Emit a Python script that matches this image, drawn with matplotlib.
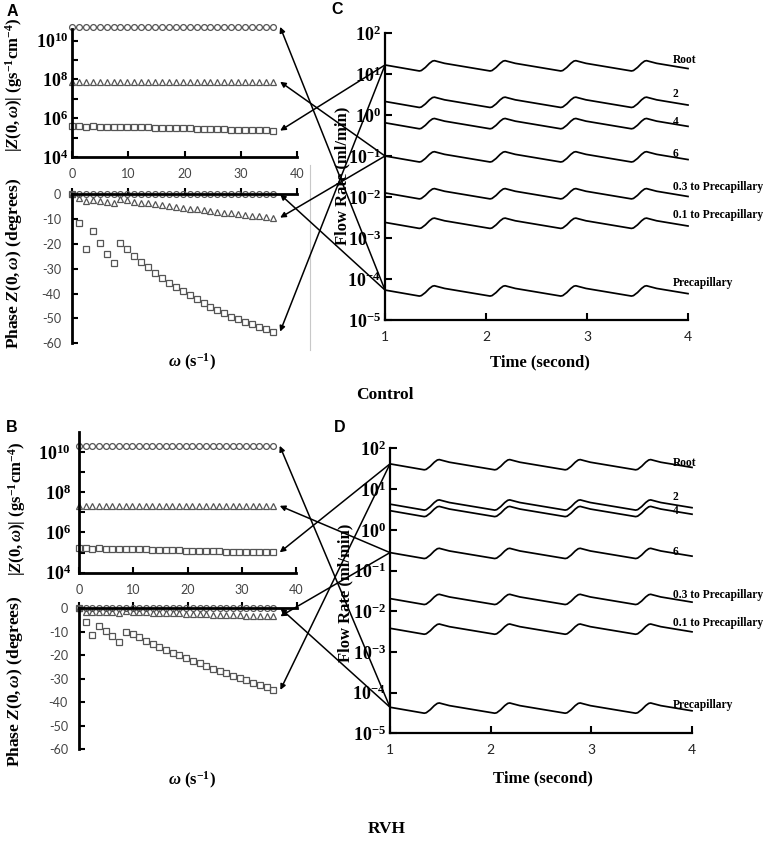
import numpy as np
import matplotlib
matplotlib.use('Agg')
import matplotlib.pyplot as plt
from matplotlib.patches import ConnectionPatch
from matplotlib.lines import Line2D
from matplotlib.ticker import NullLocator

plt.rcParams['mathtext.fontset'] = 'custom'
plt.rcParams['mathtext.rm'] = 'Liberation Serif:bold'
plt.rcParams['mathtext.it'] = 'Liberation Serif:bold:italic'
plt.rcParams['mathtext.bf'] = 'Liberation Serif:bold'
plt.rcParams['mathtext.default'] = 'rm'

# ---------------- data ----------------
omega = [0.00, 1.23, 2.46, 3.69, 4.92, 6.15, 7.38, 8.62, 9.85, 11.08,
         12.31, 13.54, 14.77, 16.00, 17.23, 18.46, 19.69, 20.92, 22.15, 23.38,
         24.62, 25.85, 27.08, 28.31, 29.54, 30.77, 32.00, 33.23, 34.46, 35.69]

# log10 |Z(0,w)|  -- Control
ctrl_mag_circle = [10.71, 10.71, 10.71, 10.71, 10.71, 10.71, 10.71, 10.71, 10.71, 10.71,
                   10.71, 10.71, 10.71, 10.71, 10.71, 10.71, 10.71, 10.71, 10.71, 10.71,
                   10.71, 10.71, 10.71, 10.71, 10.71, 10.71, 10.71, 10.71, 10.71, 10.71]
ctrl_mag_triangle = [7.88, 7.88, 7.88, 7.88, 7.88, 7.88, 7.88, 7.88, 7.88, 7.88,
                     7.88, 7.88, 7.88, 7.88, 7.88, 7.88, 7.88, 7.88, 7.88, 7.88,
                     7.88, 7.88, 7.88, 7.88, 7.88, 7.88, 7.88, 7.88, 7.88, 7.88]
ctrl_mag_square = [5.58, 5.58, 5.57, 5.58, 5.57, 5.56, 5.56, 5.55, 5.55, 5.54,
                   5.53, 5.53, 5.52, 5.51, 5.50, 5.49, 5.48, 5.47, 5.46, 5.45,
                   5.44, 5.43, 5.42, 5.41, 5.40, 5.39, 5.38, 5.37, 5.37, 5.36]
# phase (degrees) -- Control
ctrl_ph_circle = [0, 0, 0, 0, 0, 0, 0, 0, 0, 0, 0, 0, 0, 0, 0,
                  0, 0, 0, 0, 0, 0, 0, 0, 0, 0, 0, 0, 0, 0, 0]
ctrl_ph_triangle = [0, -1.6, -2.7, -2.3, -2.7, -3.1, -3.4, -2.0, -2.3, -3.0,
                    -3.4, -3.6, -4.0, -4.3, -4.7, -5.0, -5.4, -5.8, -6.0, -6.3,
                    -6.7, -7.0, -7.4, -7.7, -8.1, -8.3, -8.6, -8.9, -9.1, -9.4]
ctrl_ph_square = [0, -11.4, -22.1, -14.8, -19.5, -23.9, -27.8, -19.7, -22.1, -24.8,
                  -27.1, -29.3, -31.5, -33.6, -35.6, -37.2, -38.9, -40.5, -42.3, -43.9,
                  -45.2, -46.6, -47.9, -49.3, -50.3, -51.4, -52.3, -53.3, -54.4, -55.3]

# log10 |Z(0,w)|  -- RVH
rvh_mag_circle = [10.30, 10.30, 10.30, 10.30, 10.30, 10.30, 10.30, 10.30, 10.30, 10.30,
                  10.30, 10.30, 10.30, 10.30, 10.30, 10.30, 10.30, 10.30, 10.30, 10.30,
                  10.30, 10.30, 10.30, 10.30, 10.30, 10.30, 10.30, 10.30, 10.30, 10.30]
rvh_mag_triangle = [7.32, 7.32, 7.32, 7.32, 7.32, 7.32, 7.32, 7.32, 7.32, 7.32,
                    7.32, 7.32, 7.32, 7.32, 7.32, 7.32, 7.32, 7.32, 7.32, 7.32,
                    7.32, 7.32, 7.32, 7.32, 7.32, 7.32, 7.32, 7.32, 7.32, 7.32]
rvh_mag_square = [5.21, 5.21, 5.20, 5.21, 5.20, 5.19, 5.19, 5.18, 5.17, 5.17,
                  5.16, 5.15, 5.14, 5.13, 5.12, 5.11, 5.10, 5.10, 5.09, 5.08,
                  5.07, 5.06, 5.05, 5.05, 5.04, 5.03, 5.03, 5.02, 5.02, 5.01]
# phase (degrees) -- RVH
rvh_ph_circle = [0, 0, 0, 0, 0, 0, 0, 0, 0, 0, 0, 0, 0, 0, 0,
                 0, 0, 0, 0, 0, 0, 0, 0, 0, 0, 0, 0, 0, 0, 0]
rvh_ph_triangle = [0, -1.4, -1.7, -1.4, -1.5, -1.7, -1.8, -1.3, -1.4, -1.6,
                   -1.7, -1.8, -1.9, -2.0, -2.1, -2.2, -2.3, -2.4, -2.5, -2.6,
                   -2.7, -2.8, -2.9, -3.0, -3.0, -3.1, -3.2, -3.3, -3.3, -3.4]
rvh_ph_square = [0, -5.7, -11.4, -7.4, -9.7, -11.8, -14.2, -10.0, -11.1, -12.4,
                 -13.8, -15.1, -16.4, -17.6, -18.9, -20.1, -21.2, -22.3, -23.5, -24.6,
                 -25.7, -26.7, -27.7, -28.7, -29.7, -30.7, -31.7, -32.7, -33.7, -34.8]

# flow waveform (time in s, log10 offset from value at t=1 s)
wave_t = [1.00, 1.34, 1.36, 1.40, 1.44, 1.47, 1.49, 1.52, 1.59,
          2.04, 2.06, 2.10, 2.14, 2.17, 2.19, 2.22, 2.29,
          2.74, 2.76, 2.80, 2.84, 2.87, 2.89, 2.92, 2.99,
          3.44, 3.46, 3.50, 3.54, 3.57, 3.59, 3.62, 3.69,
          4.00]
wave_dlog = [0.00, -0.146, -0.135, -0.06, 0.04, 0.095, 0.105, 0.085, 0.04,
             -0.146, -0.135, -0.06, 0.04, 0.095, 0.105, 0.085, 0.04,
             -0.146, -0.135, -0.06, 0.04, 0.095, 0.105, 0.085, 0.04,
             -0.146, -0.135, -0.06, 0.04, 0.095, 0.105, 0.085, 0.04,
             -0.087]

vessels = ['Root', '2', '4', '6', '0.3 to Precapillary', '0.1 to Precapillary', 'Precapillary']
ctrl_level = [1.22, 0.33, -0.19, -1.00, -1.90, -2.62, -4.27]   # log10 flow at t=1
rvh_level = [1.62, 0.63, 0.47, -0.56, -1.69, -2.42, -4.36]
ctrl_label_y = [1.34, 0.51, -0.17, -0.95, -1.76, -2.44, -4.10]
rvh_label_y = [1.64, 0.81, 0.47, -0.54, -1.60, -2.30, -4.30]

mag_xticks = [0, 10, 20, 30, 40]
phase_yticks = [0, -10, -20, -30, -40, -50, -60]
flow_xticks = [1, 2, 3, 4]
flow_yexp = [-5, -4, -3, -2, -1, 0, 1, 2]
mag_yexp = [4, 5, 6, 7, 8, 9, 10]

# ---------------- figure ----------------
W, H = 767, 844
fig = plt.figure(figsize=(W / 100, H / 100), dpi=100)
SERIF = 'Liberation Serif'
SANS = 'Lato'
MC = '#555555'


def box(x0, x1, ytop, ybot):
    return [x0 / W, 1 - ybot / H, (x1 - x0) / W, (ybot - ytop) / H]


def style_mag(ax, ytop, ypad):
    ax.set_yscale('log')
    ax.set_xlim(0, 40)
    ax.set_ylim(1e4, 10 ** ytop)
    for s in ['top', 'right']:
        ax.spines[s].set_visible(False)
    for s in ['left', 'bottom']:
        ax.spines[s].set_linewidth(2)
    ax.set_xticks(mag_xticks)
    ax.set_xticklabels([str(v) for v in mag_xticks], fontfamily=SANS, fontsize=9, color='#444444')
    ax.set_yticks([10.0 ** k for k in mag_yexp])
    ax.set_yticklabels(['$10^{%d}$' % k if k % 2 == 0 else '' for k in mag_yexp], fontsize=13)
    ax.yaxis.set_minor_locator(NullLocator())
    ax.tick_params(direction='in', length=4, width=1.5)
    ax.tick_params(axis='x', pad=8)
    ax.tick_params(axis='y', pad=ypad)
    ax.patch.set_alpha(0)


def style_phase(ax):
    ax.set_xlim(0, 40)
    ax.set_ylim(-60, 0)
    for s in ['top', 'right']:
        ax.spines[s].set_visible(False)
    ax.spines['bottom'].set_position(('data', 0))
    for s in ['left', 'bottom']:
        ax.spines[s].set_linewidth(2)
    ax.set_xticks(mag_xticks)
    ax.set_xticklabels(['' for v in mag_xticks])
    ax.set_yticks(phase_yticks)
    ax.set_yticklabels([str(v) for v in phase_yticks], fontfamily=SANS, fontsize=9, color='#444444')
    ax.tick_params(direction='in', length=4, width=1.5)
    ax.tick_params(axis='y', pad=8)
    ax.patch.set_alpha(0)


def style_flow(ax):
    ax.set_yscale('log')
    ax.set_xlim(1, 4)
    ax.set_ylim(1e-5, 1e2)
    for s in ['top', 'right']:
        ax.spines[s].set_visible(False)
    for s in ['left', 'bottom']:
        ax.spines[s].set_linewidth(1.6)
    ax.set_xticks(flow_xticks)
    ax.set_xticklabels([str(v) for v in flow_xticks], fontfamily=SANS, fontsize=10, color='#222222')
    ax.set_yticks([10.0 ** k for k in flow_yexp])
    ax.set_yticklabels(['$10^{%d}$' % k for k in flow_yexp], fontsize=13)
    ax.yaxis.set_minor_locator(NullLocator())
    ax.tick_params(direction='in', length=5, width=1.5)
    ax.tick_params(axis='x', pad=8)
    ax.tick_params(axis='y', pad=3)
    ax.patch.set_alpha(0)


def draw_imp(axm, axp, mc, mt, ms, pc, pt, ps):
    kw = dict(ls='none', mfc='none', mec=MC, mew=0.9, clip_on=False)
    axm.plot(omega, 10 ** np.array(mc), marker='o', ms=4.2, **kw)
    axm.plot(omega, 10 ** np.array(mt), marker='^', ms=4.2, **kw)
    axm.plot(omega, 10 ** np.array(ms), marker='s', ms=4.4, **kw)
    axp.plot(omega, pc, marker='o', ms=4.2, **kw)
    axp.plot(omega, pt, marker='^', ms=4.2, **kw)
    axp.plot(omega, ps, marker='s', ms=4.8, **kw)


def draw_flow(ax, levels, label_y, xlab):
    d = np.array(wave_dlog)
    for name, lvl, ly in zip(vessels, levels, label_y):
        ax.plot(wave_t, 10 ** (lvl + d), color='black', lw=1.25, clip_on=False,
                solid_joinstyle='round')
        ax.text(xlab, 10 ** ly, name, fontfamily=SERIF, fontweight='bold', fontsize=8.3,
                ha='left', va='center')


def connect(ax_from, xy_from, ax_to, xy_to):
    con = ConnectionPatch(xyA=xy_from, coordsA=ax_from.transData,
                          xyB=xy_to, coordsB=ax_to.transData,
                          arrowstyle='-|>', mutation_scale=8, lw=1.1,
                          color='black', shrinkA=0, shrinkB=0, zorder=10)
    fig.add_artist(con)


# ---- Control ----
axAm = fig.add_axes(box(72, 297, 29, 157))
axAp = fig.add_axes(box(72, 297, 194.3, 343.3))
axC = fig.add_axes(box(385, 688, 33, 320))
style_mag(axAm, 10.6, 3)
style_phase(axAp)
style_flow(axC)
draw_imp(axAm, axAp, ctrl_mag_circle, ctrl_mag_triangle, ctrl_mag_square,
         ctrl_ph_circle, ctrl_ph_triangle, ctrl_ph_square)
draw_flow(axC, ctrl_level, ctrl_label_y, 3.85)

# ---- RVH ----
axBm = fig.add_axes(box(79, 296, 431.7, 572.7))
axBp = fig.add_axes(box(79, 296.7, 608.3, 749))
axD = fig.add_axes(box(390, 692, 448.4, 733.3))
style_mag(axBm, 11.0, 6)
style_phase(axBp)
style_flow(axD)
draw_imp(axBm, axBp, rvh_mag_circle, rvh_mag_triangle, rvh_mag_square,
         rvh_ph_circle, rvh_ph_triangle, rvh_ph_square)
draw_flow(axD, rvh_level, rvh_label_y, 3.81)

# ---- connecting arrows ----
tipx = 37.0
for axm, axp, axf, lv, mc, mt, ms, pc, pt, ps in [
        (axAm, axAp, axC, ctrl_level, ctrl_mag_circle, ctrl_mag_triangle, ctrl_mag_square,
         ctrl_ph_circle, ctrl_ph_triangle, ctrl_ph_square),
        (axBm, axBp, axD, rvh_level, rvh_mag_circle, rvh_mag_triangle, rvh_mag_square,
         rvh_ph_circle, rvh_ph_triangle, rvh_ph_square)]:
    root = (1, 10 ** lv[0])
    six = (1, 10 ** lv[3])
    pre = (1, 10 ** lv[6])
    connect(axf, root, axm, (tipx, 10 ** ms[-1]))
    connect(axf, six, axm, (tipx, 10 ** mt[-1]))
    connect(axf, pre, axm, (tipx, 10 ** mc[-1]))
    connect(axf, root, axp, (tipx, ps[-1]))
    connect(axf, six, axp, (tipx, pt[-1]))
    connect(axf, pre, axp, (tipx, pc[-1]))

# separator line
fig.add_artist(Line2D([310 / W, 310 / W], [1 - 165 / H, 1 - 350 / H], color='#c8c8c8', lw=0.8,
                      transform=fig.transFigure))

# ---- texts ----
def ftext(x, y, s, **kw):
    fig.text(x / W, 1 - y / H, s, **kw)

lab = dict(fontfamily=SERIF, fontweight='bold', ha='center', va='center')
ftext(14, 85, r'$|\mathit{Z(0,\omega)}|$ (gs$^{-1}$cm$^{-4}$)', rotation=90, fontsize=12, **lab)
ftext(14, 263, r'Phase $\mathit{Z(0,\omega)}$ (degrees)', rotation=90, fontsize=12.5, **lab)
ftext(192, 362, r'$\mathit{\omega}$ (s$^{-1}$)', fontsize=12, **lab)
ftext(342, 176, 'Flow Rate (ml/min)', rotation=90, fontsize=12, **lab)
ftext(540, 362, 'Time (second)', fontsize=12, **lab)
ftext(385, 395, 'Control', fontsize=12.5, **lab)

ftext(17, 509, r'$|\mathit{Z(0,\omega)}|$ (gs$^{-1}$cm$^{-4}$)', rotation=90, fontsize=12, **lab)
ftext(15, 681, r'Phase $\mathit{Z(0,\omega)}$ (degrees)', rotation=90, fontsize=12.5, **lab)
ftext(192, 780, r'$\mathit{\omega}$ (s$^{-1}$)', fontsize=12, **lab)
ftext(345, 593, 'Flow Rate (ml/min)', rotation=90, fontsize=12, **lab)
ftext(543, 778, 'Time (second)', fontsize=12, **lab)
ftext(387, 829, 'RVH', fontsize=12.5, **lab)

pl = dict(fontfamily='Liberation Sans', fontweight='bold', fontsize=11.5, ha='center', va='center')
ftext(12, 12, 'A', **pl)
ftext(337, 10, 'C', **pl)
ftext(12, 428, 'B', **pl)
ftext(340, 427, 'D', **pl)

fig.savefig('out.png', dpi=100)
